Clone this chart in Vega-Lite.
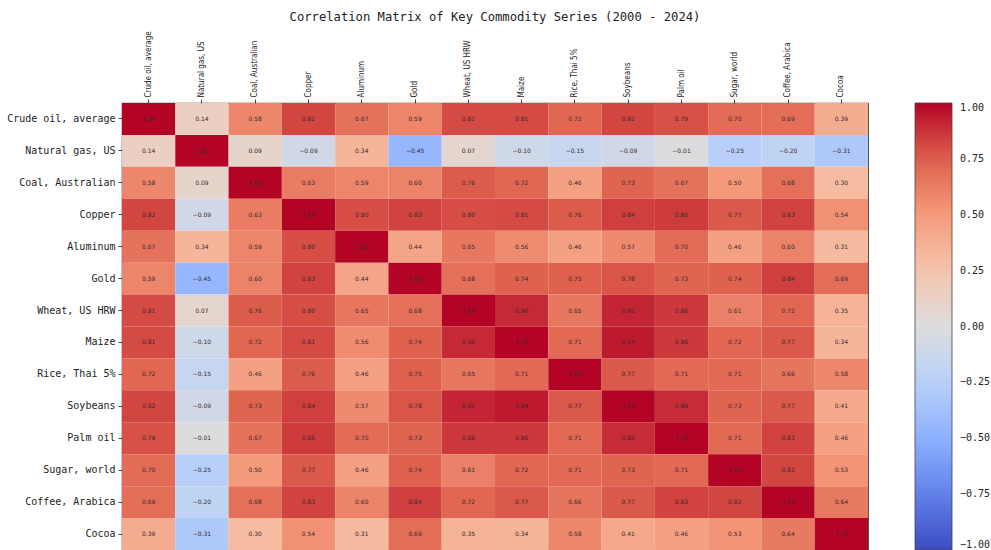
{
  "$schema": "https://vega.github.io/schema/vega-lite/v6.json",
  "width": 746,
  "height": 447,
  "autosize": "none",
  "padding": {"left": 122, "top": 103, "right": 123, "bottom": 0},
  "background": "white",
  "title": {
    "text": "Correlation Matrix of Key Commodity Series (2000 - 2024)",
    "font": "DejaVu Sans Mono",
    "fontSize": 12.2,
    "fontWeight": "normal",
    "color": "#222",
    "anchor": "middle",
    "offset": 8
  },
  "config": {
    "view": {"stroke": "#444", "strokeWidth": 1.2},
    "axis": {"domain": false, "grid": false, "title": null, "tickColor": "#444", "tickSize": 4, "labelColor": "#222"}
  },
  "data": {
    "values": [
      {"r":"Crude oil, average","c":"Crude oil, average","v":1.00},{"r":"Crude oil, average","c":"Natural gas, US","v":0.14},{"r":"Crude oil, average","c":"Coal, Australian","v":0.58},{"r":"Crude oil, average","c":"Copper","v":0.82},{"r":"Crude oil, average","c":"Aluminum","v":0.67},{"r":"Crude oil, average","c":"Gold","v":0.59},{"r":"Crude oil, average","c":"Wheat, US HRW","v":0.81},{"r":"Crude oil, average","c":"Maize","v":0.81},{"r":"Crude oil, average","c":"Rice, Thai 5%","v":0.72},{"r":"Crude oil, average","c":"Soybeans","v":0.82},{"r":"Crude oil, average","c":"Palm oil","v":0.79},{"r":"Crude oil, average","c":"Sugar, world","v":0.70},{"r":"Crude oil, average","c":"Coffee, Arabica","v":0.69},{"r":"Crude oil, average","c":"Cocoa","v":0.39},
      {"r":"Natural gas, US","c":"Crude oil, average","v":0.14},{"r":"Natural gas, US","c":"Natural gas, US","v":1.00},{"r":"Natural gas, US","c":"Coal, Australian","v":0.09},{"r":"Natural gas, US","c":"Copper","v":-0.09},{"r":"Natural gas, US","c":"Aluminum","v":0.34},{"r":"Natural gas, US","c":"Gold","v":-0.45},{"r":"Natural gas, US","c":"Wheat, US HRW","v":0.07},{"r":"Natural gas, US","c":"Maize","v":-0.10},{"r":"Natural gas, US","c":"Rice, Thai 5%","v":-0.15},{"r":"Natural gas, US","c":"Soybeans","v":-0.09},{"r":"Natural gas, US","c":"Palm oil","v":-0.01},{"r":"Natural gas, US","c":"Sugar, world","v":-0.25},{"r":"Natural gas, US","c":"Coffee, Arabica","v":-0.20},{"r":"Natural gas, US","c":"Cocoa","v":-0.31},
      {"r":"Coal, Australian","c":"Crude oil, average","v":0.58},{"r":"Coal, Australian","c":"Natural gas, US","v":0.09},{"r":"Coal, Australian","c":"Coal, Australian","v":1.00},{"r":"Coal, Australian","c":"Copper","v":0.63},{"r":"Coal, Australian","c":"Aluminum","v":0.59},{"r":"Coal, Australian","c":"Gold","v":0.60},{"r":"Coal, Australian","c":"Wheat, US HRW","v":0.76},{"r":"Coal, Australian","c":"Maize","v":0.72},{"r":"Coal, Australian","c":"Rice, Thai 5%","v":0.46},{"r":"Coal, Australian","c":"Soybeans","v":0.73},{"r":"Coal, Australian","c":"Palm oil","v":0.67},{"r":"Coal, Australian","c":"Sugar, world","v":0.50},{"r":"Coal, Australian","c":"Coffee, Arabica","v":0.68},{"r":"Coal, Australian","c":"Cocoa","v":0.30},
      {"r":"Copper","c":"Crude oil, average","v":0.82},{"r":"Copper","c":"Natural gas, US","v":-0.09},{"r":"Copper","c":"Coal, Australian","v":0.63},{"r":"Copper","c":"Copper","v":1.00},{"r":"Copper","c":"Aluminum","v":0.80},{"r":"Copper","c":"Gold","v":0.83},{"r":"Copper","c":"Wheat, US HRW","v":0.80},{"r":"Copper","c":"Maize","v":0.81},{"r":"Copper","c":"Rice, Thai 5%","v":0.76},{"r":"Copper","c":"Soybeans","v":0.84},{"r":"Copper","c":"Palm oil","v":0.85},{"r":"Copper","c":"Sugar, world","v":0.77},{"r":"Copper","c":"Coffee, Arabica","v":0.83},{"r":"Copper","c":"Cocoa","v":0.54},
      {"r":"Aluminum","c":"Crude oil, average","v":0.67},{"r":"Aluminum","c":"Natural gas, US","v":0.34},{"r":"Aluminum","c":"Coal, Australian","v":0.59},{"r":"Aluminum","c":"Copper","v":0.80},{"r":"Aluminum","c":"Aluminum","v":1.00},{"r":"Aluminum","c":"Gold","v":0.44},{"r":"Aluminum","c":"Wheat, US HRW","v":0.65},{"r":"Aluminum","c":"Maize","v":0.56},{"r":"Aluminum","c":"Rice, Thai 5%","v":0.46},{"r":"Aluminum","c":"Soybeans","v":0.57},{"r":"Aluminum","c":"Palm oil","v":0.70},{"r":"Aluminum","c":"Sugar, world","v":0.46},{"r":"Aluminum","c":"Coffee, Arabica","v":0.60},{"r":"Aluminum","c":"Cocoa","v":0.31},
      {"r":"Gold","c":"Crude oil, average","v":0.59},{"r":"Gold","c":"Natural gas, US","v":-0.45},{"r":"Gold","c":"Coal, Australian","v":0.60},{"r":"Gold","c":"Copper","v":0.83},{"r":"Gold","c":"Aluminum","v":0.44},{"r":"Gold","c":"Gold","v":1.00},{"r":"Gold","c":"Wheat, US HRW","v":0.68},{"r":"Gold","c":"Maize","v":0.74},{"r":"Gold","c":"Rice, Thai 5%","v":0.75},{"r":"Gold","c":"Soybeans","v":0.78},{"r":"Gold","c":"Palm oil","v":0.73},{"r":"Gold","c":"Sugar, world","v":0.74},{"r":"Gold","c":"Coffee, Arabica","v":0.84},{"r":"Gold","c":"Cocoa","v":0.69},
      {"r":"Wheat, US HRW","c":"Crude oil, average","v":0.81},{"r":"Wheat, US HRW","c":"Natural gas, US","v":0.07},{"r":"Wheat, US HRW","c":"Coal, Australian","v":0.76},{"r":"Wheat, US HRW","c":"Copper","v":0.80},{"r":"Wheat, US HRW","c":"Aluminum","v":0.65},{"r":"Wheat, US HRW","c":"Gold","v":0.68},{"r":"Wheat, US HRW","c":"Wheat, US HRW","v":1.00},{"r":"Wheat, US HRW","c":"Maize","v":0.90},{"r":"Wheat, US HRW","c":"Rice, Thai 5%","v":0.65},{"r":"Wheat, US HRW","c":"Soybeans","v":0.91},{"r":"Wheat, US HRW","c":"Palm oil","v":0.86},{"r":"Wheat, US HRW","c":"Sugar, world","v":0.61},{"r":"Wheat, US HRW","c":"Coffee, Arabica","v":0.72},{"r":"Wheat, US HRW","c":"Cocoa","v":0.35},
      {"r":"Maize","c":"Crude oil, average","v":0.81},{"r":"Maize","c":"Natural gas, US","v":-0.10},{"r":"Maize","c":"Coal, Australian","v":0.72},{"r":"Maize","c":"Copper","v":0.81},{"r":"Maize","c":"Aluminum","v":0.56},{"r":"Maize","c":"Gold","v":0.74},{"r":"Maize","c":"Wheat, US HRW","v":0.90},{"r":"Maize","c":"Maize","v":1.00},{"r":"Maize","c":"Rice, Thai 5%","v":0.71},{"r":"Maize","c":"Soybeans","v":0.94},{"r":"Maize","c":"Palm oil","v":0.86},{"r":"Maize","c":"Sugar, world","v":0.72},{"r":"Maize","c":"Coffee, Arabica","v":0.77},{"r":"Maize","c":"Cocoa","v":0.34},
      {"r":"Rice, Thai 5%","c":"Crude oil, average","v":0.72},{"r":"Rice, Thai 5%","c":"Natural gas, US","v":-0.15},{"r":"Rice, Thai 5%","c":"Coal, Australian","v":0.46},{"r":"Rice, Thai 5%","c":"Copper","v":0.76},{"r":"Rice, Thai 5%","c":"Aluminum","v":0.46},{"r":"Rice, Thai 5%","c":"Gold","v":0.75},{"r":"Rice, Thai 5%","c":"Wheat, US HRW","v":0.65},{"r":"Rice, Thai 5%","c":"Maize","v":0.71},{"r":"Rice, Thai 5%","c":"Rice, Thai 5%","v":1.00},{"r":"Rice, Thai 5%","c":"Soybeans","v":0.77},{"r":"Rice, Thai 5%","c":"Palm oil","v":0.71},{"r":"Rice, Thai 5%","c":"Sugar, world","v":0.71},{"r":"Rice, Thai 5%","c":"Coffee, Arabica","v":0.66},{"r":"Rice, Thai 5%","c":"Cocoa","v":0.58},
      {"r":"Soybeans","c":"Crude oil, average","v":0.82},{"r":"Soybeans","c":"Natural gas, US","v":-0.09},{"r":"Soybeans","c":"Coal, Australian","v":0.73},{"r":"Soybeans","c":"Copper","v":0.84},{"r":"Soybeans","c":"Aluminum","v":0.57},{"r":"Soybeans","c":"Gold","v":0.78},{"r":"Soybeans","c":"Wheat, US HRW","v":0.91},{"r":"Soybeans","c":"Maize","v":0.94},{"r":"Soybeans","c":"Rice, Thai 5%","v":0.77},{"r":"Soybeans","c":"Soybeans","v":1.00},{"r":"Soybeans","c":"Palm oil","v":0.89},{"r":"Soybeans","c":"Sugar, world","v":0.73},{"r":"Soybeans","c":"Coffee, Arabica","v":0.77},{"r":"Soybeans","c":"Cocoa","v":0.41},
      {"r":"Palm oil","c":"Crude oil, average","v":0.79},{"r":"Palm oil","c":"Natural gas, US","v":-0.01},{"r":"Palm oil","c":"Coal, Australian","v":0.67},{"r":"Palm oil","c":"Copper","v":0.85},{"r":"Palm oil","c":"Aluminum","v":0.70},{"r":"Palm oil","c":"Gold","v":0.73},{"r":"Palm oil","c":"Wheat, US HRW","v":0.86},{"r":"Palm oil","c":"Maize","v":0.86},{"r":"Palm oil","c":"Rice, Thai 5%","v":0.71},{"r":"Palm oil","c":"Soybeans","v":0.89},{"r":"Palm oil","c":"Palm oil","v":1.00},{"r":"Palm oil","c":"Sugar, world","v":0.71},{"r":"Palm oil","c":"Coffee, Arabica","v":0.83},{"r":"Palm oil","c":"Cocoa","v":0.46},
      {"r":"Sugar, world","c":"Crude oil, average","v":0.70},{"r":"Sugar, world","c":"Natural gas, US","v":-0.25},{"r":"Sugar, world","c":"Coal, Australian","v":0.50},{"r":"Sugar, world","c":"Copper","v":0.77},{"r":"Sugar, world","c":"Aluminum","v":0.46},{"r":"Sugar, world","c":"Gold","v":0.74},{"r":"Sugar, world","c":"Wheat, US HRW","v":0.61},{"r":"Sugar, world","c":"Maize","v":0.72},{"r":"Sugar, world","c":"Rice, Thai 5%","v":0.71},{"r":"Sugar, world","c":"Soybeans","v":0.73},{"r":"Sugar, world","c":"Palm oil","v":0.71},{"r":"Sugar, world","c":"Sugar, world","v":1.00},{"r":"Sugar, world","c":"Coffee, Arabica","v":0.82},{"r":"Sugar, world","c":"Cocoa","v":0.53},
      {"r":"Coffee, Arabica","c":"Crude oil, average","v":0.69},{"r":"Coffee, Arabica","c":"Natural gas, US","v":-0.20},{"r":"Coffee, Arabica","c":"Coal, Australian","v":0.68},{"r":"Coffee, Arabica","c":"Copper","v":0.83},{"r":"Coffee, Arabica","c":"Aluminum","v":0.60},{"r":"Coffee, Arabica","c":"Gold","v":0.84},{"r":"Coffee, Arabica","c":"Wheat, US HRW","v":0.72},{"r":"Coffee, Arabica","c":"Maize","v":0.77},{"r":"Coffee, Arabica","c":"Rice, Thai 5%","v":0.66},{"r":"Coffee, Arabica","c":"Soybeans","v":0.77},{"r":"Coffee, Arabica","c":"Palm oil","v":0.83},{"r":"Coffee, Arabica","c":"Sugar, world","v":0.82},{"r":"Coffee, Arabica","c":"Coffee, Arabica","v":1.00},{"r":"Coffee, Arabica","c":"Cocoa","v":0.64},
      {"r":"Cocoa","c":"Crude oil, average","v":0.39},{"r":"Cocoa","c":"Natural gas, US","v":-0.31},{"r":"Cocoa","c":"Coal, Australian","v":0.30},{"r":"Cocoa","c":"Copper","v":0.54},{"r":"Cocoa","c":"Aluminum","v":0.31},{"r":"Cocoa","c":"Gold","v":0.69},{"r":"Cocoa","c":"Wheat, US HRW","v":0.35},{"r":"Cocoa","c":"Maize","v":0.34},{"r":"Cocoa","c":"Rice, Thai 5%","v":0.58},{"r":"Cocoa","c":"Soybeans","v":0.41},{"r":"Cocoa","c":"Palm oil","v":0.46},{"r":"Cocoa","c":"Sugar, world","v":0.53},{"r":"Cocoa","c":"Coffee, Arabica","v":0.64},{"r":"Cocoa","c":"Cocoa","v":1.00}
    ]
  },
  "encoding": {
    "x": {
      "field": "c", "type": "nominal",
      "sort": ["Crude oil, average","Natural gas, US","Coal, Australian","Copper","Aluminum","Gold","Wheat, US HRW","Maize","Rice, Thai 5%","Soybeans","Palm oil","Sugar, world","Coffee, Arabica","Cocoa"],
      "scale": {"paddingInner": 0, "paddingOuter": 0},
      "axis": {"orient": "top", "labelAngle": -90, "labelFont": "DejaVu Sans Condensed", "labelFontSize": 8, "labelPadding": 2, "labelLimit": 0}
    },
    "y": {
      "field": "r", "type": "nominal",
      "sort": ["Crude oil, average","Natural gas, US","Coal, Australian","Copper","Aluminum","Gold","Wheat, US HRW","Maize","Rice, Thai 5%","Soybeans","Palm oil","Sugar, world","Coffee, Arabica","Cocoa"],
      "scale": {"paddingInner": 0, "paddingOuter": 0},
      "axis": {"labelFont": "DejaVu Sans Mono", "labelFontSize": 10, "labelPadding": 3, "labelLimit": 0}
    }
  },
  "layer": [
    {
      "mark": {"type": "rect"},
      "encoding": {
        "color": {
          "field": "v", "type": "quantitative",
          "scale": {
            "domain": [-1, -0.75, -0.5, -0.25, 0, 0.25, 0.5, 0.75, 1],
            "range": ["#3b4cc0", "#6282ea", "#8db0fe", "#b8d0f9", "#dddddd", "#f5c4ac", "#f49a7b", "#de604d", "#b40426"],
            "interpolate": "rgb"
          },
          "legend": {
            "title": null,
            "orient": "none",
            "legendX": 793,
            "legendY": 0,
            "direction": "vertical",
            "gradientLength": 447,
            "gradientThickness": 37,
            "gradientStrokeColor": "#444",
            "gradientStrokeWidth": 0.8,
            "values": [-1, -0.75, -0.5, -0.25, 0, 0.25, 0.5, 0.75, 1],
            "format": ".2f",
            "labelFont": "DejaVu Sans Mono",
            "labelFontSize": 10,
            "labelColor": "#222",
            "labelOffset": 8,
            "labelOverlap": false
          }
        }
      }
    },
    {
      "mark": {"type": "text", "font": "DejaVu Sans", "fontSize": 6, "color": "#3a2a2a"},
      "encoding": {
        "text": {"field": "v", "type": "quantitative", "format": ".2f"}
      }
    }
  ]
}
